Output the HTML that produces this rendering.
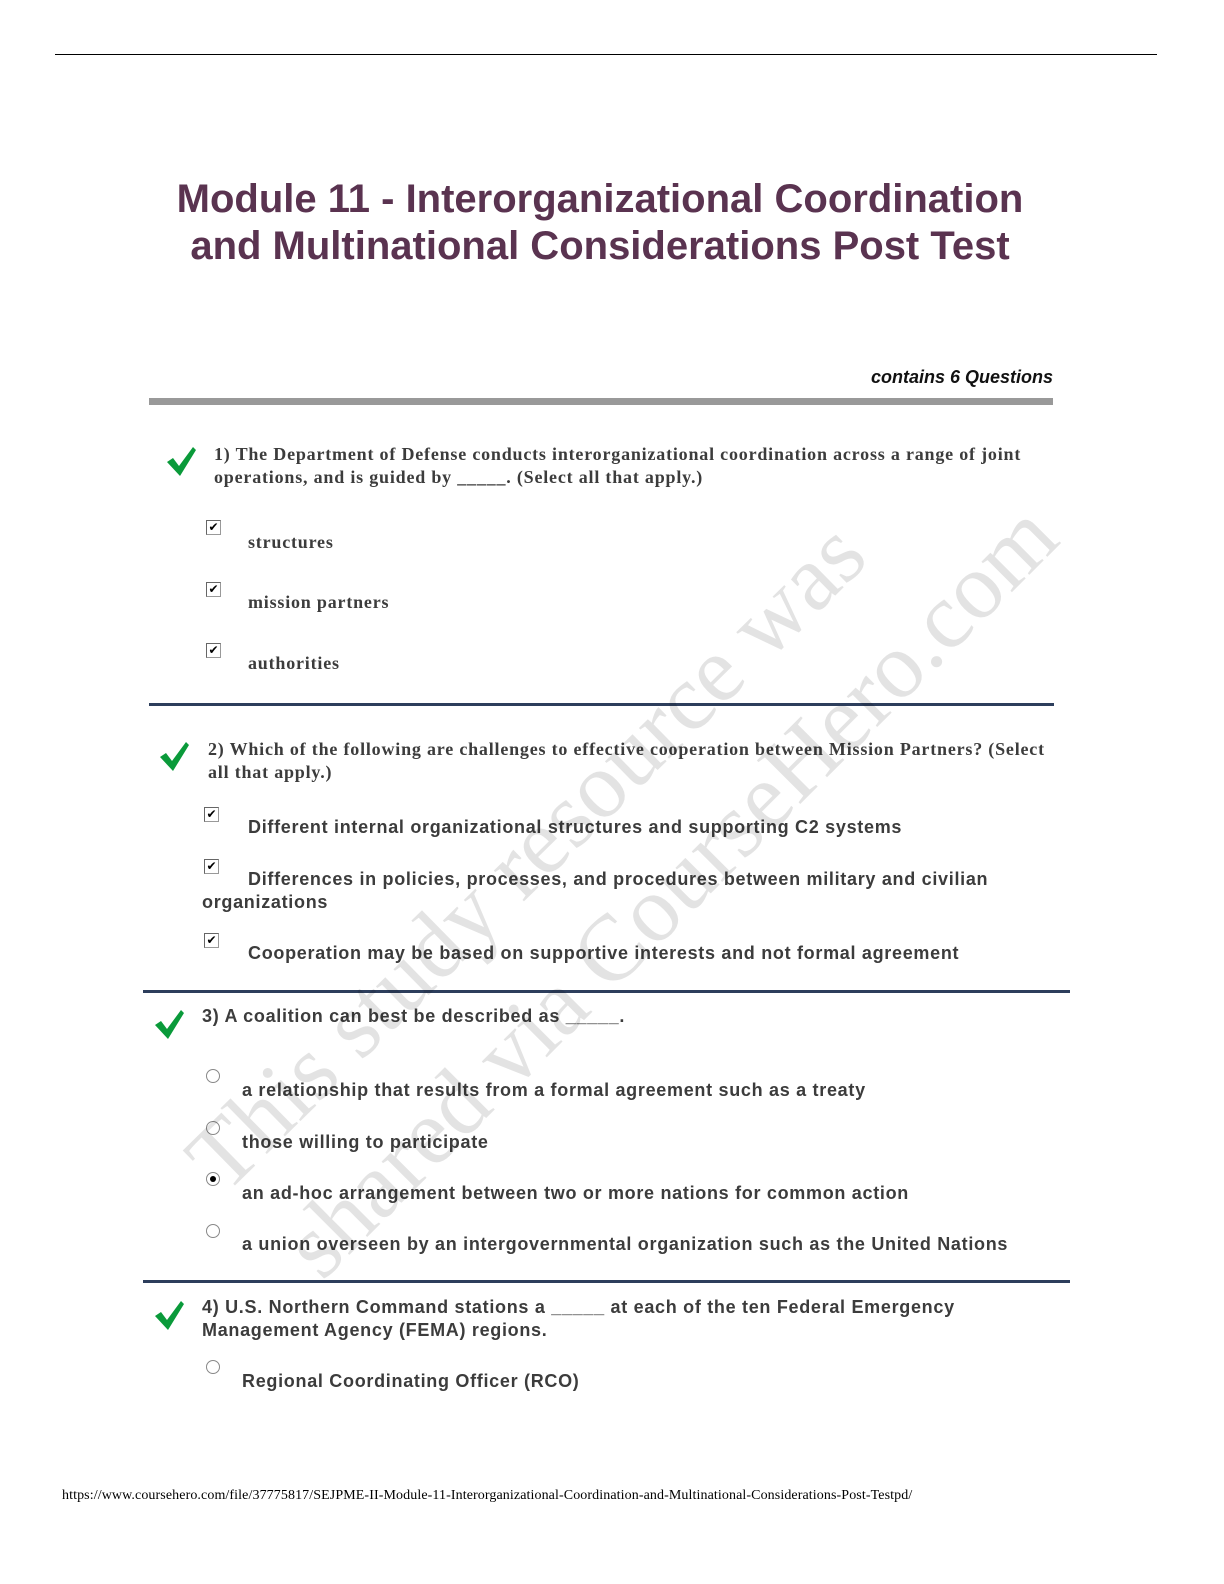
<!DOCTYPE html>
<html><head><meta charset="utf-8"><style>
body{margin:0;width:1224px;height:1584px;position:relative;background:#fff;overflow:hidden;font-family:"Liberation Sans",sans-serif;color:#404040}
.a{position:absolute;white-space:nowrap}
.s{font-family:"Liberation Serif",serif;font-weight:bold;font-size:18px;color:#3c3c3c;letter-spacing:0.8px}
.b{font-weight:bold;font-size:18px;color:#3c3c3c;letter-spacing:0.7px}
.hr{position:absolute;background:#2d3e5c;height:3px}
.cb{position:absolute;width:13px;height:13px;border:1px solid #999;border-top-color:#666;border-left-color:#666;background:#fff;font-size:12px;line-height:12px;text-align:center;color:#000}
.rd{position:absolute;width:12px;height:12px;border:1px solid #888;border-radius:50%;background:#fff}
.rd.on:after{content:"";position:absolute;left:3px;top:3px;width:6px;height:6px;border-radius:50%;background:#000}
.wm{position:absolute;font-family:"Liberation Serif",serif;font-size:94px;color:rgba(0,0,0,0.11);transform-origin:0 0;white-space:nowrap}
</style></head><body>
<div style="position:absolute;left:55px;top:54px;width:1102px;height:1px;background:#000"></div>
<div class="a" style="left:0;width:1200px;text-align:center;top:176px;font-size:40px;font-weight:bold;color:#5a3350;line-height:47px">Module 11 - Interorganizational Coordination<br>and Multinational Considerations Post Test</div>
<div class="a" style="right:171px;top:367px;font-size:18px;font-weight:bold;font-style:italic;color:#111">contains 6 Questions</div>
<div style="position:absolute;left:149px;top:398px;width:904px;height:7px;background:#999"></div>

<svg style="position:absolute;left:0;top:0" width="1224" height="1584">
<g fill="#0a9a3a">
<path d="M167 462 l6 -4 l6 8 l14 -19 l3 3 l-16 26 z"/>
<path d="M160 757 l6 -4 l6 8 l14 -19 l3 3 l-16 26 z"/>
<path d="M155 1025 l6 -4 l6 8 l14 -19 l3 3 l-16 26 z"/>
<path d="M155 1316 l6 -4 l6 8 l14 -19 l3 3 l-16 26 z"/>
</g></svg>

<div class="a s" style="left:214px;top:443px;line-height:23px">1) The Department of Defense conducts interorganizational coordination across a range of joint<br>operations, and is guided by _____. (Select all that apply.)</div>
<div class="cb" style="left:206px;top:520px">✔</div><div class="a s" style="left:248px;top:532px">structures</div>
<div class="cb" style="left:206px;top:582px">✔</div><div class="a s" style="left:248px;top:592px">mission partners</div>
<div class="cb" style="left:206px;top:643px">✔</div><div class="a s" style="left:248px;top:653px">authorities</div>
<div class="hr" style="left:149px;top:703px;width:905px"></div>

<div class="a s" style="left:208px;top:738px;line-height:23px">2) Which of the following are challenges to effective cooperation between Mission Partners? (Select<br>all that apply.)</div>
<div class="cb" style="left:204px;top:807px">✔</div><div class="a b" style="left:248px;top:817px">Different internal organizational structures and supporting C2 systems</div>
<div class="cb" style="left:204px;top:859px">✔</div><div class="a b" style="left:248px;top:869px">Differences in policies, processes, and procedures between military and civilian</div>
<div class="a b" style="left:202px;top:892px">organizations</div>
<div class="cb" style="left:204px;top:933px">✔</div><div class="a b" style="left:248px;top:943px">Cooperation may be based on supportive interests and not formal agreement</div>
<div class="hr" style="left:143px;top:990px;width:927px"></div>

<div class="a b" style="left:202px;top:1006px">3) A coalition can best be described as _____.</div>
<div class="rd" style="left:206px;top:1069px"></div><div class="a b" style="left:242px;top:1080px">a relationship that results from a formal agreement such as a treaty</div>
<div class="rd" style="left:206px;top:1121px"></div><div class="a b" style="left:242px;top:1132px">those willing to participate</div>
<div class="rd on" style="left:206px;top:1172px"></div><div class="a b" style="left:242px;top:1183px">an ad-hoc arrangement between two or more nations for common action</div>
<div class="rd" style="left:206px;top:1224px"></div><div class="a b" style="left:242px;top:1234px">a union overseen by an intergovernmental organization such as the United Nations</div>
<div class="hr" style="left:143px;top:1280px;width:927px"></div>

<div class="a b" style="left:202px;top:1296px;line-height:23px">4) U.S. Northern Command stations a _____ at each of the ten Federal Emergency<br>Management Agency (FEMA) regions.</div>
<div class="rd" style="left:206px;top:1360px"></div><div class="a b" style="left:242px;top:1371px">Regional Coordinating Officer (RCO)</div>

<div class="a" style="left:62px;top:1488px;font-family:'Liberation Serif',serif;font-size:14px;color:#000;letter-spacing:0.1px">https://www.coursehero.com/file/37775817/SEJPME-II-Module-11-Interorganizational-Coordination-and-Multinational-Considerations-Post-Testpd/</div>

<div class="wm" style="left:165px;top:1135px;transform:rotate(-44.5deg)">This study resource was</div>
<div class="wm" style="left:262px;top:1222px;transform:rotate(-45deg)">shared via CourseHero.com</div>
</body></html>
